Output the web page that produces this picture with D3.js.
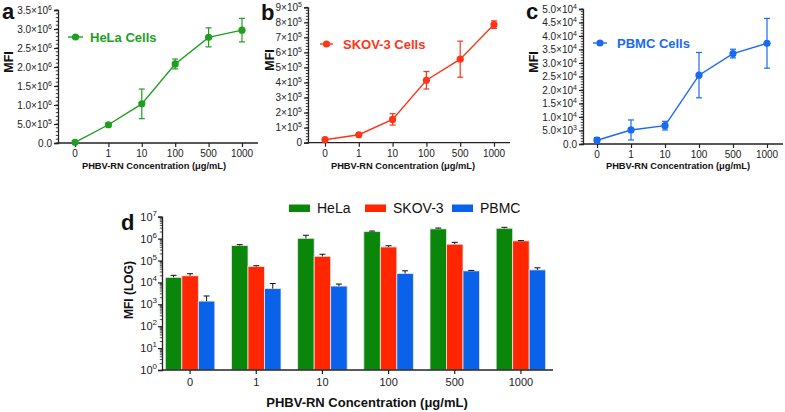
<!DOCTYPE html>
<html><head><meta charset="utf-8">
<script src="https://cdn.jsdelivr.net/npm/d3@7"></script>
<style>
body{margin:0;background:#fff;}
svg{font-family:"Liberation Sans",Arial,Helvetica,sans-serif;}
</style></head>
<body><svg id="c" width="785" height="412"></svg>
<script>
const categories = ["0","1","10","100","500","1000"];
const helaMean = [1.7e4, 4.8e5, 1.03e6, 2.08e6, 2.78e6, 2.97e6];
const helaSD   = [4e3, 5e4, 3.9e5, 1.3e5, 2.5e5, 3.1e5];
const skovMean = [2.0e4, 5.3e4, 1.55e5, 4.15e5, 5.55e5, 7.85e5];
const skovSD   = [5e3, 5e3, 3.8e4, 5.8e4, 1.2e5, 2.5e4];
const pbmcMean = [1.4e3, 5.2e3, 6.8e3, 2.55e4, 3.35e4, 3.73e4];
const pbmcSD   = [1.0e3, 3.7e3, 1.6e3, 8.4e3, 1.6e3, 9.2e3];
const seriesNames = ["HeLa","SKOV-3","PBMC"];
const helaTicks = [0,5e5,1e6,1.5e6,2e6,2.5e6,3e6,3.5e6];
const skovTicks = [0,1e5,2e5,3e5,4e5,5e5,6e5,7e5,8e5,9e5];
const pbmcTicks = [0,5e3,1e4,1.5e4,2e4,2.5e4,3e4,3.5e4,4e4,4.5e4,5e4];
const logTicks = [1,10,100,1e3,1e4,1e5,1e6,1e7];
const xTitle = "PHBV-RN Concentration (\u03bcg/mL)";

const svg = d3.select("#c");
const barColors = ["#0a870a","#ff2600","#0a62ea"];
const lineColors = ["#1f9e1f","#ff3418","#1a6af0"];

function sciLabel(sel, v, decimals){
  sel.text(null);
  if(v===0){ sel.append("tspan").text(decimals? "0.0":"0"); return; }
  const e = Math.floor(Math.log10(v)+1e-9);
  const m = v/Math.pow(10,e);
  sel.append("tspan").text((decimals? m.toFixed(1): m.toFixed(0)) + "\u00d710");
  sel.append("tspan").attr("dy",-4).attr("font-size","7px").text(e);
}

function linePanel(o){
  const g = svg.append("g");
  const x = d3.scalePoint().domain(categories).range(o.xr);
  const y = d3.scaleLinear().domain([0,o.ymax]).range(o.yr);
  const ya = d3.axisLeft(y).tickValues(o.ticks).tickSize(4).tickFormat("");
  const yg = g.append("g").attr("transform",`translate(${o.ax},0)`).call(ya);
  yg.select(".domain").attr("stroke","#222").attr("stroke-width",1.3);
  yg.selectAll(".tick line").attr("stroke","#222").attr("stroke-width",1.2);
  const minor = d3.range(0, o.ymax+1e-9, o.minorStep);
  g.append("g").selectAll("line").data(minor).join("line")
    .attr("x1",o.ax-2.2).attr("x2",o.ax).attr("y1",d=>y(d)).attr("y2",d=>y(d))
    .attr("stroke","#222").attr("stroke-width",0.9);
  g.append("g").selectAll("text").data(o.ticks).join("text")
    .attr("x",o.ax-6).attr("y",d=>y(d)+3.6).attr("text-anchor","end")
    .attr("font-size","10px").attr("fill","#222")
    .each(function(d){ sciLabel(d3.select(this), d, o.decimals); });
  const xa = d3.axisBottom(x).tickSize(4).tickFormat("");
  const xg = g.append("g").attr("transform",`translate(0,${o.yr[0]})`).call(xa);
  xg.select(".domain").remove();
  xg.selectAll(".tick line").attr("stroke","#222").attr("stroke-width",1.2);
  g.append("line").attr("x1",o.ax).attr("x2",o.axEnd).attr("y1",o.yr[0]).attr("y2",o.yr[0])
    .attr("stroke","#222").attr("stroke-width",1.3);
  g.append("g").selectAll("text").data(categories).join("text")
    .attr("x",d=>x(d)).attr("y",o.yr[0]+14).attr("text-anchor","middle")
    .attr("font-size","10px").attr("fill","#222").text(d=>d);
  g.append("text").attr("x",o.titleX).attr("y",169).attr("text-anchor","middle")
    .attr("font-size","9.3px").attr("font-weight","bold").attr("fill","#111").text(xTitle);
  g.append("text").attr("transform",`translate(${o.mfiX},${o.mfiY}) rotate(-90)`)
    .attr("text-anchor","middle").attr("font-size","12.5px").attr("font-weight","bold").attr("fill","#111").text("MFI");
  g.append("text").attr("x",o.letterX).attr("y",o.letterY).attr("font-size","22px")
    .attr("font-weight","bold").attr("fill","#111").text(o.letter);
  const data = categories.map((c,i)=>({c, m:o.mean[i], s:o.sd[i]}));
  const col = o.color;
  g.append("path").datum(data).attr("fill","none").attr("stroke",col).attr("stroke-width",1.4)
    .attr("d", d3.line().x(d=>x(d.c)).y(d=>y(d.m)));
  const eb = g.append("g").attr("stroke",col).attr("stroke-width",1.2);
  data.forEach(d=>{
    const cx = x(d.c);
    eb.append("line").attr("x1",cx).attr("x2",cx).attr("y1",y(d.m-d.s)).attr("y2",y(d.m+d.s));
    eb.append("line").attr("x1",cx-3).attr("x2",cx+3).attr("y1",y(d.m-d.s)).attr("y2",y(d.m-d.s));
    eb.append("line").attr("x1",cx-3).attr("x2",cx+3).attr("y1",y(d.m+d.s)).attr("y2",y(d.m+d.s));
  });
  g.append("g").selectAll("circle").data(data).join("circle")
    .attr("cx",d=>x(d.c)).attr("cy",d=>y(d.m)).attr("r",3.6).attr("fill",col);
  g.append("line").attr("x1",o.lg[0]).attr("x2",o.lg[1]).attr("y1",o.lg[2]).attr("y2",o.lg[2])
    .attr("stroke",col).attr("stroke-width",1.4);
  g.append("circle").attr("cx",(o.lg[0]+o.lg[1])/2).attr("cy",o.lg[2]).attr("r",3.6).attr("fill",col);
  g.append("text").attr("x",o.lg[3]).attr("y",o.lg[2]+5).attr("font-size","13px")
    .attr("font-weight","bold").attr("fill",col).text(o.legend);
}

linePanel({xr:[75,242], yr:[143,10], ax:58, axEnd:258, ymax:3.5e6, ticks:helaTicks, minorStep:1e5,
  decimals:true, mean:helaMean, sd:helaSD, color:lineColors[0], legend:"HeLa Cells",
  lg:[68,83,37,90], titleX:154, mfiX:13, mfiY:62, letter:"a", letterX:2, letterY:19});
linePanel({xr:[325,494], yr:[142.7,7.3], ax:308, axEnd:510, ymax:9e5, ticks:skovTicks, minorStep:2e4,
  decimals:false, mean:skovMean, sd:skovSD, color:lineColors[1], legend:"SKOV-3 Cells",
  lg:[320,333,44,343], titleX:403, mfiX:274, mfiY:60, letter:"b", letterX:261, letterY:20});
linePanel({xr:[597,767], yr:[144,9], ax:583, axEnd:783, ymax:5e4, ticks:pbmcTicks, minorStep:1e3,
  decimals:true, mean:pbmcMean, sd:pbmcSD, color:lineColors[2], legend:"PBMC Cells",
  lg:[593,607,43,617], titleX:678, mfiX:538, mfiY:62, letter:"c", letterX:526, letterY:19});

(function(){
  const g = svg.append("g");
  const ax = 162, y0 = 370;
  const y = d3.scaleLog().domain([1,1e7]).range([y0,216.7]);
  const x0 = d3.scaleBand().domain(categories).range([157,554]);
  const x1 = d3.scaleBand().domain(seriesNames).range([x0.bandwidth()/2-24.75, x0.bandwidth()/2+24.75]);
  const means = [helaMean, skovMean, pbmcMean];
  const sds = [helaSD, skovSD, pbmcSD];
  const bars = [];
  seriesNames.forEach((s,si)=>categories.forEach((c,ci)=>bars.push({s,si,c,m:means[si][ci],sd:sds[si][ci]})));
  g.append("g").selectAll("rect").data(bars).join("rect")
    .attr("x",d=>x0(d.c)+x1(d.s)).attr("width",x1.bandwidth())
    .attr("y",d=>y(d.m)).attr("height",d=>y0-y(d.m))
    .attr("fill",d=>barColors[d.si]).attr("stroke","#e8e8e8").attr("stroke-width",0.8);
  const eb = g.append("g").attr("stroke","#111").attr("stroke-width",1);
  bars.forEach(d=>{
    const cx = x0(d.c)+x1(d.s)+x1.bandwidth()/2;
    eb.append("line").attr("x1",cx).attr("x2",cx).attr("y1",y(d.m)).attr("y2",y(d.m+d.sd));
    eb.append("line").attr("x1",cx-3).attr("x2",cx+3).attr("y1",y(d.m+d.sd)).attr("y2",y(d.m+d.sd));
  });
  const ya = d3.axisLeft(y).tickValues(logTicks).tickSize(4).tickFormat("");
  const yg = g.append("g").attr("transform",`translate(${ax},0)`).call(ya);
  yg.select(".domain").attr("stroke","#222").attr("stroke-width",1.3);
  yg.selectAll(".tick line").attr("stroke","#222").attr("stroke-width",1.2);
  const minor = [];
  for(let e=0;e<7;e++) for(let k=2;k<10;k++) minor.push(k*Math.pow(10,e));
  g.append("g").selectAll("line").data(minor).join("line")
    .attr("x1",ax-2.2).attr("x2",ax).attr("y1",d=>y(d)).attr("y2",d=>y(d))
    .attr("stroke","#222").attr("stroke-width",0.8);
  g.append("g").selectAll("text").data(logTicks).join("text")
    .attr("x",ax-5).attr("y",d=>y(d)+4).attr("text-anchor","end")
    .attr("font-size","11px").attr("fill","#222")
    .each(function(d){
      const t = d3.select(this);
      t.append("tspan").text("10");
      t.append("tspan").attr("dy",-5).attr("font-size","8px").text(Math.round(Math.log10(d)));
    });
  const xa = d3.axisBottom(x0).tickSize(4).tickFormat("");
  const xg = g.append("g").attr("transform",`translate(0,${y0})`).call(xa);
  xg.select(".domain").remove();
  xg.selectAll(".tick line").attr("stroke","#222").attr("stroke-width",1.2);
  g.append("line").attr("x1",ax).attr("x2",553).attr("y1",y0).attr("y2",y0)
    .attr("stroke","#222").attr("stroke-width",1.3);
  g.append("g").selectAll("text").data(categories).join("text")
    .attr("x",d=>x0(d)+x0.bandwidth()/2).attr("y",y0+16).attr("text-anchor","middle")
    .attr("font-size","11px").attr("fill","#222").text(d=>d);
  g.append("text").attr("x",367).attr("y",407).attr("text-anchor","middle")
    .attr("font-size","13px").attr("font-weight","bold").attr("fill","#111").text(xTitle);
  g.append("text").attr("transform",`translate(133,290) rotate(-90)`)
    .attr("text-anchor","middle").attr("font-size","12px").attr("font-weight","bold").attr("fill","#111").text("MFI (LOG)");
  g.append("text").attr("x",121).attr("y",230).attr("font-size","22px")
    .attr("font-weight","bold").attr("fill","#111").text("d");
  const lgX = [289,365,452];
  seriesNames.forEach((s,i)=>{
    g.append("rect").attr("x",lgX[i]).attr("y",204.5).attr("width",21).attr("height",7.5).attr("fill",barColors[i]);
    g.append("text").attr("x",lgX[i]+28).attr("y",213).attr("font-size","14px").attr("fill","#111").text(s);
  });
})();
</script></body></html>
